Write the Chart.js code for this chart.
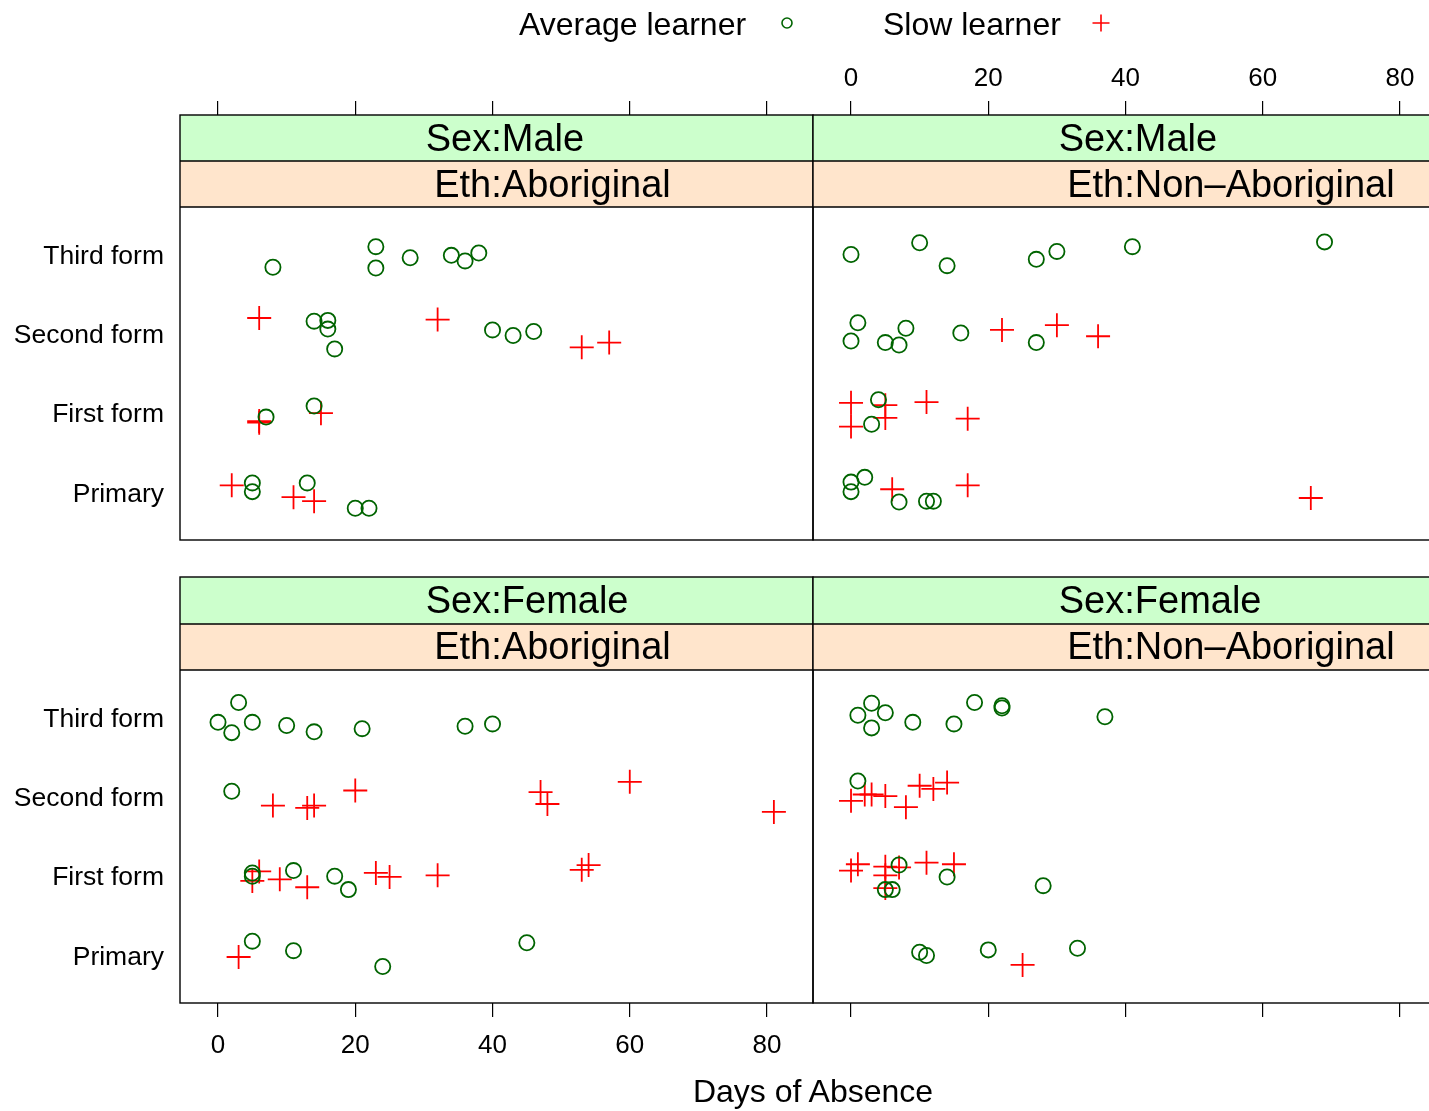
<!DOCTYPE html>
<html>
<head>
<meta charset="utf-8">
<title>Days of Absence</title>
<script src="https://cdn.jsdelivr.net/npm/chart.js@4.4.1/dist/chart.umd.min.js"></script>
<style>
  html, body { margin: 0; padding: 0; background: #fff; overflow: hidden; }
  #page { position: relative; width: 1460px; height: 1111px; color: #000;
          font-family: "Liberation Sans", Arial, Helvetica, sans-serif; }
  #page canvas { position: absolute; left: 0; top: 0; }
  .txt { position: absolute; white-space: nowrap; line-height: 1; }
  .strip-label { position: absolute; width: 0; font-size: 38px; }
  .strip-label span { position: absolute; top: 0; white-space: nowrap; }
  .strip-label .nm { right: 0.139em; }
  .strip-label .sep { left: -0.139em; }
  .strip-label .lv { left: 0.139em; }
</style>
</head>
<body>
<div id="page">
  <canvas id="pTL" width="1460" height="1111"></canvas>
  <canvas id="pTR" width="1460" height="1111"></canvas>
  <canvas id="pBL" width="1460" height="1111"></canvas>
  <canvas id="pBR" width="1460" height="1111"></canvas>

  <div class="txt" style="left:519px; top:8px; font-size:32px;">Average learner</div>
  <div class="txt" style="left:883px; top:8px; font-size:32px;">Slow learner</div>
  <svg style="position:absolute;left:0;top:0" width="1460" height="50">
    <circle cx="787" cy="23" r="5" fill="none" stroke="#006400" stroke-width="1.6"></circle>
    <path d="M1092.5 23 H1109.5 M1101 14.5 V31.5" stroke="#ff0000" stroke-width="1.6" fill="none"></path>
  </svg>

  <div class="txt" style="left:0; width:1626px; text-align:center; top:1075px; font-size:32px;">Days of Absence</div>
  <div id="strips"></div>
</div>

<script>
// Factor levels (bottom to top), groups and axis ticks
const LEVELS = ['Primary', 'First form', 'Second form', 'Third form'];
const GROUPS = ['Average learner', 'Slow learner'];
const X_TICKS = [0, 20, 40, 60, 80];
const X_MIN = -5.54;
const X_MAX = 86.70;

// Days absent and jittered level position, one pair of arrays per panel and group
// Sex: Male, Eth: Aboriginal
const maleAboAvgDays  = [8, 23, 23, 28, 34, 36, 38,  14, 16, 16, 17, 40, 43, 46,  7, 14,  5, 5, 13, 20, 22];
const maleAboAvgPos   = [3.84, 4.10, 3.83, 3.96, 3.99, 3.92, 4.02,  3.16, 3.17, 3.06, 2.81, 3.05, 2.98, 3.03,  1.95, 2.09,  1.12, 1.01, 1.12, 0.80, 0.80];
const maleAboSlowDays = [6, 32, 53, 57,  6, 6, 15,  2, 11, 14];
const maleAboSlowPos  = [3.20, 3.18, 2.83, 2.89,  1.90, 1.88, 2.00,  1.09, 0.94, 0.89];

// Sex: Male, Eth: Non-Aboriginal
const maleNonAvgDays  = [0, 10, 14, 27, 30, 41, 69,  1, 0, 5, 7, 8, 16, 27,  4, 3,  0, 0, 2, 7, 11, 12];
const maleNonAvgPos   = [4.00, 4.15, 3.86, 3.94, 4.04, 4.10, 4.16,  3.14, 2.91, 2.89, 2.86, 3.07, 3.01, 2.89,  2.17, 1.86,  1.13, 1.01, 1.19, 0.88, 0.89, 0.89];
const maleNonSlowDays = [22, 30, 36,  0, 0, 5, 5, 11, 17,  6, 17, 67];
const maleNonSlowPos  = [3.05, 3.11, 2.97,  2.13, 1.83, 2.10, 1.94, 2.14, 1.93,  1.04, 1.09, 0.93];

// Sex: Female, Eth: Aboriginal
const femAboAvgDays   = [3, 0, 5, 2, 10, 14, 21, 36, 40,  2,  5, 5, 11, 17, 19,  5, 11, 24, 45];
const femAboAvgPos    = [4.19, 3.94, 3.94, 3.81, 3.90, 3.82, 3.86, 3.89, 3.92,  3.07,  2.04, 2.00, 2.07, 2.00, 1.83,  1.18, 1.06, 0.86, 1.16];
const femAboSlowDays  = [8, 13, 14, 20, 47, 48, 60, 81,  6, 5, 9, 13, 23, 25, 32, 53, 54,  3];
const femAboSlowPos   = [2.89, 2.86, 2.89, 3.08, 3.06, 2.91, 3.19, 2.81,  2.06, 1.94, 1.96, 1.86, 2.04, 1.99, 2.01, 2.08, 2.14,  0.98];

// Sex: Female, Eth: Non-Aboriginal
const femNonAvgDays   = [1, 3, 5, 3, 9, 15, 18, 22, 22, 37,  1,  7, 14, 5, 6, 28,  10, 11, 20, 33];
const femNonAvgPos    = [4.03, 4.18, 4.06, 3.87, 3.94, 3.92, 4.19, 4.15, 4.12, 4.01,  3.20,  2.14, 1.99, 1.83, 1.83, 1.88,  1.04, 1.00, 1.07, 1.09];
const femNonSlowDays  = [0, 2, 3, 5, 8, 10, 12, 14,  0, 1, 5, 5, 5, 7, 11, 15,  25];
const femNonSlowPos   = [2.95, 3.03, 3.03, 3.01, 2.87, 3.14, 3.10, 3.18,  2.07, 2.15, 2.12, 2.01, 1.85, 2.11, 2.17, 2.15,  0.88];

const FONT = '"Liberation Sans", Arial, Helvetica, sans-serif';
const GREEN = '#006400';
const RED = '#ff0000';
const STRIP_TOP_BG = '#ccffcc';
const STRIP_BOT_BG = '#ffe5cc';
const PX_PER_LEVEL = 333 / 4.2;
const CANVAS_W = 1460, CANVAS_H = 1111;

function pairs(xs, ys) { return xs.map((x, i) => ({ x: x, y: ys[i] })); }

// Strip backgrounds behind the data, frame lines on top
const panelFrame = {
  id: 'panelFrame',
  beforeDraw(chart) {
    const a = chart.chartArea, ctx = chart.ctx;
    const dataTop = chart.scales.y.getPixelForValue(4.6);
    const mid = Math.round((a.top + dataTop) / 2);
    ctx.save();
    ctx.fillStyle = STRIP_TOP_BG;
    ctx.fillRect(a.left, a.top, a.right - a.left, mid - a.top);
    ctx.fillStyle = STRIP_BOT_BG;
    ctx.fillRect(a.left, mid, a.right - a.left, dataTop - mid);
    ctx.restore();
  },
  afterDraw(chart) {
    const a = chart.chartArea, ctx = chart.ctx;
    const dataTop = chart.scales.y.getPixelForValue(4.6);
    const mid = Math.round((a.top + dataTop) / 2);
    ctx.save();
    ctx.strokeStyle = '#000';
    ctx.lineWidth = 1.4;
    ctx.strokeRect(a.left, a.top, a.right - a.left, a.bottom - a.top);
    ctx.beginPath();
    ctx.moveTo(a.left, mid); ctx.lineTo(a.right, mid);
    ctx.moveTo(a.left, dataTop); ctx.lineTo(a.right, dataTop);
    ctx.stroke();
    ctx.restore();
  }
};

function makePanel(id, p) {
  const area = p.area;
  const xAxisH = p.xPos === 'top' ? area.top : CANVAS_H - area.bottom;
  const pad = {
    left: 0,
    right: CANVAS_W - area.right,
    top: p.xPos === 'top' ? 0 : area.top,
    bottom: p.xPos === 'bottom' ? 0 : CANVAS_H - area.bottom
  };
  const yMax = 0.4 + (area.bottom - area.top) / PX_PER_LEVEL;
  return new Chart(document.getElementById(id), {
    type: 'scatter',
    data: {
      datasets: [
        { label: GROUPS[0], data: pairs(p.avgX, p.avgY), pointStyle: 'circle',
          pointRadius: 7.6, pointHoverRadius: 7.6, borderWidth: 1.8, pointBorderColor: GREEN,
          borderColor: GREEN, backgroundColor: 'rgba(0,0,0,0)', pointBackgroundColor: 'rgba(0,0,0,0)' },
        { label: GROUPS[1], data: pairs(p.slowX, p.slowY), pointStyle: 'cross',
          pointRadius: 12, pointHoverRadius: 12, borderWidth: 1.8, pointBorderColor: RED,
          borderColor: RED, backgroundColor: RED }
      ]
    },
    options: {
      responsive: false, animation: false, devicePixelRatio: 1, events: [],
      layout: { padding: pad },
      plugins: { legend: { display: false }, tooltip: { enabled: false } },
      scales: {
        x: {
          type: 'linear', position: p.xPos, min: X_MIN, max: X_MAX, bounds: 'data',
          afterBuildTicks: s => { s.ticks = X_TICKS.map(v => ({ value: v })); },
          afterFit: s => { s.height = xAxisH; },
          grid: { drawOnChartArea: false, drawTicks: true, tickLength: 14, color: '#000', lineWidth: 1.2 },
          border: { display: false },
          ticks: { autoSkip: false, maxRotation: 0, color: '#000',
                   padding: p.xPos === 'top' ? 7 : 13,
                   font: { family: FONT, size: 26 },
                   callback: v => (p.xLabels ? String(v) : '') }
        },
        y: {
          type: 'linear', display: true, min: 0.4, max: yMax,
          afterBuildTicks: s => { s.ticks = [1, 2, 3, 4].map(v => ({ value: v })); },
          afterFit: s => { s.width = area.left; },
          grid: { display: false, drawTicks: false },
          border: { display: false },
          ticks: { display: p.yLabels, autoSkip: false, color: '#000', padding: 16, labelOffset: 2,
                   font: { family: FONT, size: 26.5 },
                   callback: v => LEVELS[v - 1] }
        }
      }
    },
    plugins: [panelFrame]
  });
}

const TOP_ROW = { top: 115, bottom: 540 };
const BOT_ROW = { top: 577, bottom: 1003 };
const LEFT_COL = { left: 180, right: 813 };
const RIGHT_COL = { left: 813, right: 1446 };

makePanel('pTL', { area: { ...LEFT_COL, ...TOP_ROW }, xPos: 'top', xLabels: false, yLabels: true,
  avgX: maleAboAvgDays, avgY: maleAboAvgPos, slowX: maleAboSlowDays, slowY: maleAboSlowPos });
makePanel('pTR', { area: { ...RIGHT_COL, ...TOP_ROW }, xPos: 'top', xLabels: true, yLabels: false,
  avgX: maleNonAvgDays, avgY: maleNonAvgPos, slowX: maleNonSlowDays, slowY: maleNonSlowPos });
makePanel('pBL', { area: { ...LEFT_COL, ...BOT_ROW }, xPos: 'bottom', xLabels: true, yLabels: true,
  avgX: femAboAvgDays, avgY: femAboAvgPos, slowX: femAboSlowDays, slowY: femAboSlowPos });
makePanel('pBR', { area: { ...RIGHT_COL, ...BOT_ROW }, xPos: 'bottom', xLabels: false, yLabels: false,
  avgX: femNonAvgDays, avgY: femNonAvgPos, slowX: femNonSlowDays, slowY: femNonSlowPos });

// Strip labels, aligned on the colon at the middle of each panel
const STRIPS = [
  { col: LEFT_COL,  top: 115, h: 46, name: 'Sex', level: 'Male' },
  { col: LEFT_COL,  top: 161, h: 46, name: 'Eth', level: 'Aboriginal' },
  { col: RIGHT_COL, top: 115, h: 46, name: 'Sex', level: 'Male' },
  { col: RIGHT_COL, top: 161, h: 46, name: 'Eth', level: 'Non\u2013Aboriginal' },
  { col: LEFT_COL,  top: 577, h: 46, name: 'Sex', level: 'Female' },
  { col: LEFT_COL,  top: 623, h: 47, name: 'Eth', level: 'Aboriginal' },
  { col: RIGHT_COL, top: 577, h: 46, name: 'Sex', level: 'Female' },
  { col: RIGHT_COL, top: 623, h: 47, name: 'Eth', level: 'Non\u2013Aboriginal' }
];
const stripHost = document.getElementById('strips');
STRIPS.forEach(s => {
  const d = document.createElement('div');
  d.className = 'strip-label';
  d.style.left = ((s.col.left + s.col.right) / 2) + 'px';
  d.style.top = s.top + 'px';
  d.style.height = s.h + 'px';
  d.style.lineHeight = s.h + 'px';
  d.innerHTML = '<span class="nm"></span><span class="sep">:</span><span class="lv"></span>';
  d.querySelector('.nm').textContent = s.name;
  d.querySelector('.lv').textContent = s.level;
  stripHost.appendChild(d);
});
</script>
</body>
</html>
